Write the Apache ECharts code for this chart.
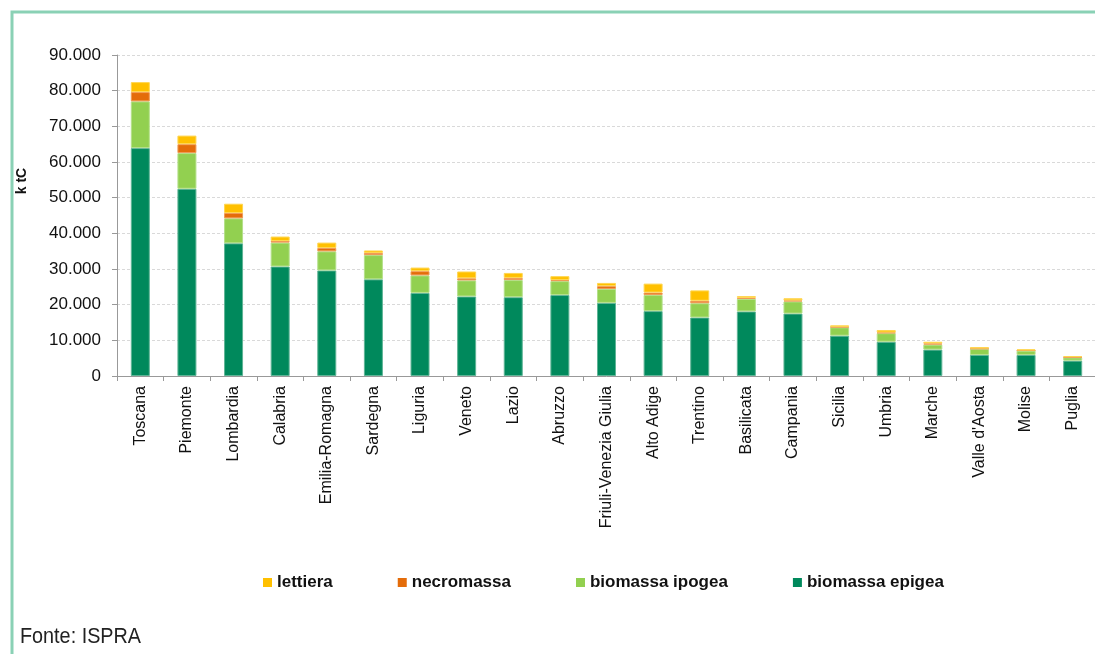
<!DOCTYPE html>
<html>
<head>
<meta charset="utf-8">
<script src="https://cdn.jsdelivr.net/npm/echarts@6/dist/echarts.min.js"></script>
<style>
html,body{margin:0;padding:0;background:#fff;}
#c{width:1095px;height:654px;}
</style>
</head>
<body>
<div id="c"></div>
<script>
var categories = ['Toscana','Piemonte','Lombardia','Calabria','Emilia-Romagna','Sardegna','Liguria','Veneto','Lazio','Abruzzo','Friuli-Venezia Giulia','Alto Adige','Trentino','Basilicata','Campania','Sicilia','Umbria','Marche',"Valle d'Aosta",'Molise','Puglia'];
var biomassaEpigea = [63900,52500,37200,30700,29600,27100,23300,22300,22100,22700,20500,18200,16400,18100,17500,11300,9600,7400,5900,5900,4300];
var biomassaIpogea = [13100,10000,7000,6700,5350,6800,4900,4500,4800,3900,3900,4500,4000,3500,3400,2350,2400,1400,1700,1200,900];
var necromassa = [2600,2500,1500,450,950,600,1200,600,600,300,800,700,700,300,300,150,200,350,100,100,100];
var lettiera = [2800,2400,2600,1250,1500,700,1000,1900,1400,1100,900,2500,2900,500,600,400,700,450,400,300,300];
var yTicks = [0,10000,20000,30000,40000,50000,60000,70000,80000,90000];

function fmt(v){ return v === 0 ? '0' : String(v).replace(/\B(?=(\d{3})+(?!\d))/g, '.'); }

var chart = echarts.init(document.getElementById('c'), null, {renderer:'canvas'});
function s(name, data, color, edge){
  return {name:name, type:'bar', stack:'tot', data:data, barWidth:19,
    itemStyle:{color:color, borderColor:edge, borderWidth:1}};
}
chart.setOption({
  animation:false,
  textStyle:{fontFamily:'Liberation Sans, Arial, sans-serif'},
  grid:{left:117, right:-1, top:55, bottom:278, containLabel:false, outerBoundsMode:'none'},
  graphic:[
    {type:'rect', shape:{x:12, y:12, width:1200, height:700}, style:{fill:'none', stroke:'#8ad1b5', lineWidth:3}, silent:true},
    {type:'text', x:20, y:626, scaleX:0.9, style:{text:'Fonte: ISPRA', fontSize:22, fontFamily:'Liberation Sans, Arial', fill:'#222'}},
    {type:'text', x:22, y:181, rotation:Math.PI/2, style:{text:'k tC', fontSize:14, fontWeight:'bold', fontFamily:'Liberation Sans, Arial', fill:'#111', align:'center', verticalAlign:'middle'}}
  ],
  legend:{
    left:258, top:569, itemWidth:9, itemHeight:9, itemGap:65,
    icon:'rect',
    itemStyle:{borderWidth:0},
    textStyle:{fontSize:17, fontWeight:'bold', color:'#111', padding:[0,0,0,0]},
    data:['lettiera','necromassa','biomassa ipogea','biomassa epigea']
  },
  xAxis:{
    type:'category', data:categories, boundaryGap:true,
    axisLine:{lineStyle:{color:'#999', width:1}},
    axisTick:{show:true, length:5, lineStyle:{color:'#999'}},
    axisLabel:{rotate:90, fontSize:16, color:'#111', margin:10, interval:0}
  },
  yAxis:{
    type:'value', min:0, max:90000, interval:10000,
    axisLine:{show:true, lineStyle:{color:'#999'}},
    axisTick:{show:true, length:5, lineStyle:{color:'#999'}},
    axisLabel:{fontSize:17, color:'#111', margin:16, formatter:function(v){ return yTicks.indexOf(v) >= 0 ? fmt(v) : ''; }},
    splitLine:{lineStyle:{color:'#d9d9d9', type:[3,2]}}
  },
  series:[
    s('biomassa epigea', biomassaEpigea, '#00895c', '#5fb496'),
    s('biomassa ipogea', biomassaIpogea, '#92d050', '#b4e08a'),
    s('necromassa', necromassa, '#e46c0a', '#f09a55'),
    s('lettiera', lettiera, '#ffc000', '#ffd650')
  ]
});
</script>
</body>
</html>
